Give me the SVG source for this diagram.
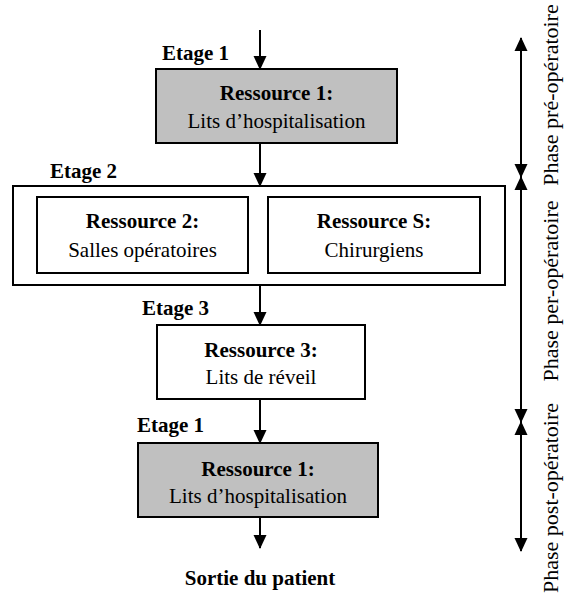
<svg xmlns="http://www.w3.org/2000/svg" width="564" height="594" viewBox="0 0 564 594">
<defs>
<marker id="ah" markerUnits="userSpaceOnUse" markerWidth="14" markerHeight="16" refX="14" refY="7" orient="auto-start-reverse" viewBox="0 0 15 14">
<path d="M0,0 L15,7 L0,14 Z" fill="#000"/>
</marker>
<style>
.box{stroke:#000;stroke-width:2;}
.g{fill:#c0c0c0;}
.w{fill:#fff;}
.t{font-family:"Liberation Serif","Times New Roman",serif;font-size:21px;fill:#000;text-anchor:middle;}
.b{font-weight:bold;}
.lbl{font-family:"Liberation Serif","Times New Roman",serif;font-size:21px;font-weight:bold;fill:#000;}
.ph{font-family:"Liberation Serif","Times New Roman",serif;font-size:22px;fill:#000;text-anchor:middle;}
.c{stroke:#000;stroke-width:2;fill:none;marker-end:url(#ah);}
.d{stroke:#000;stroke-width:2;fill:none;marker-end:url(#ah);marker-start:url(#ah);}
</style>
</defs>
<rect width="564" height="594" fill="#fff"/>
<g id="connectors">
<line class="c" x1="260" y1="30" x2="260" y2="69"/>
<line class="c" x1="260" y1="143" x2="260" y2="186"/>
<line class="c" x1="260" y1="285" x2="260" y2="325"/>
<line class="c" x1="260" y1="399" x2="260" y2="443"/>
<line class="c" x1="260" y1="517" x2="260" y2="548"/>
<line class="d" x1="521" y1="38" x2="521" y2="177"/>
<line class="d" x1="521" y1="177" x2="521" y2="422"/>
<line class="d" x1="521" y1="422" x2="521" y2="551"/>
</g>
<g id="etage1-top">
<text class="lbl" x="162" y="60">Etage 1</text>
<rect class="box g" x="156" y="69" width="241" height="74"/>
<text class="t b" x="276.5" y="100">Ressource 1:</text>
<text class="t" x="276.5" y="128">Lits d’hospitalisation</text>
</g>
<g id="etage2">
<text class="lbl" x="50" y="178">Etage 2</text>
<rect class="box w" x="13" y="186" width="492" height="99"/>
</g>
<g id="ressource2">
<rect class="box w" x="37" y="197" width="211" height="76"/>
<text class="t b" x="142.5" y="228">Ressource 2:</text>
<text class="t" x="142.5" y="257">Salles opératoires</text>
</g>
<g id="ressourceS">
<rect class="box w" x="268" y="197" width="212" height="76"/>
<text class="t b" x="374" y="228">Ressource S:</text>
<text class="t" x="374" y="257">Chirurgiens</text>
</g>
<g id="etage3">
<text class="lbl" x="142" y="315">Etage 3</text>
<rect class="box w" x="157" y="325" width="208" height="74"/>
<text class="t b" x="261" y="357">Ressource 3:</text>
<text class="t" x="261" y="384">Lits de réveil</text>
</g>
<g id="etage1-bottom">
<text class="lbl" x="137" y="432">Etage 1</text>
<rect class="box g" x="138" y="443" width="240" height="74"/>
<text class="t b" x="258" y="476">Ressource 1:</text>
<text class="t" x="258" y="503">Lits d’hospitalisation</text>
</g>
<g id="sortie">
<text class="t b" x="260" y="585">Sortie du patient</text>
</g>
<g id="phases">
<text class="ph" transform="translate(558,95) rotate(-90)">Phase pré-opératoire</text>
<text class="ph" transform="translate(558,291) rotate(-90)">Phase per-opératoire</text>
<text class="ph" transform="translate(558,498) rotate(-90)">Phase post-opératoire</text>
</g>
</svg>
